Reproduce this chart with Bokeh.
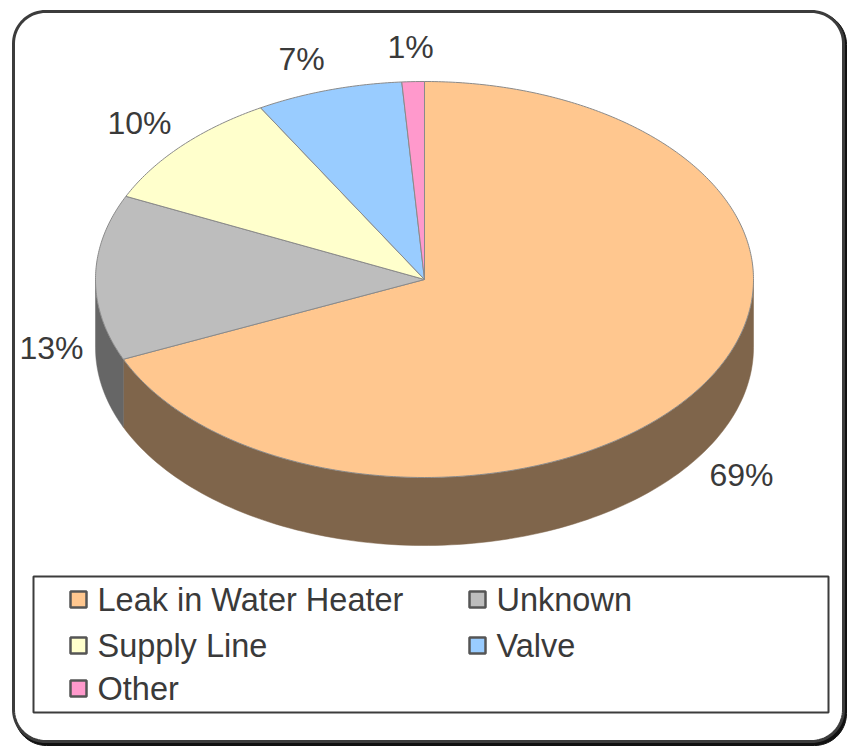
import numpy as np
from bokeh.plotting import figure
from bokeh.models import Range1d
from bokeh.core.properties import value
from bokeh.embed import file_html
from bokeh.resources import INLINE

categories = ["Leak in Water Heater", "Unknown", "Supply Line", "Valve", "Other"]
shares = [68.4, 13.5, 9.8, 7.2, 1.1]
top_colors = ["#FFC78F", "#BDBDBD", "#FFFFCC", "#99CCFF", "#FF99CC"]
side_colors = ["#7F654B", "#666666", "#80806A", "#4D6680", "#804D66"]
pct_labels = ["69%", "13%", "10%", "7%", "1%"]
pct_x = [709, 19, 107, 278, 387]
pct_y = [474, 347, 122, 58, 46]

legend_x = [78, 477, 78, 477, 78]
legend_y = [599, 599, 645, 645, 688]

FONT = value("Liberation Sans")
TEXT = "#3a3a3a"
W, H = 848, 746
cx, cy, rx, ry, depth = 424, 279, 329, 198, 68

p = figure(width=W, height=H, output_backend="svg", toolbar_location=None,
           x_range=Range1d(0, W), y_range=Range1d(H, 0),
           min_border=0, outline_line_color=None)
p.axis.visible = False
p.grid.visible = False
p.background_fill_color = "white"
p.border_fill_color = "white"


def rounded(x0, y0, x1, y1, r):
    xs, ys = [], []
    for (ax, ay, a0) in [(x1 - r, y0 + r, -90), (x1 - r, y1 - r, 0),
                         (x0 + r, y1 - r, 90), (x0 + r, y0 + r, 180)]:
        t = np.radians(np.linspace(a0, a0 + 90, 20))
        xs += list(ax + r * np.cos(t))
        ys += list(ay + r * np.sin(t))
    return xs, ys


# outer frame with a hard shadow on the right and bottom
sx, sy = rounded(14, 12, 846, 745, 32)
p.patch(sx, sy, fill_color="#111111", line_color="#111111", line_width=1)
fx, fy = rounded(13, 11, 843, 741, 32)
p.patch(fx, fy, fill_color="white", line_color="#3c3c3c", line_width=3)


def ex(t):
    return cx + rx * np.sin(t)


def ey(t, drop=0):
    return cy - ry * np.cos(t) + drop


edges = np.radians(np.cumsum([0] + shares) * 3.6)

# side walls: only the front half of the rim is visible
for i in range(len(shares)):
    a, b = max(edges[i], np.pi / 2), min(edges[i + 1], 3 * np.pi / 2)
    if b <= a:
        continue
    t = np.linspace(a, b, 120)
    xs = list(ex(t)) + list(ex(t[::-1]))
    ys = list(ey(t)) + list(ey(t[::-1], depth))
    p.patch(xs, ys, fill_color=side_colors[i], line_color=side_colors[i], line_width=0.5)

# top faces
for i in range(len(shares)):
    t = np.linspace(edges[i], edges[i + 1], max(4, int(shares[i] * 6)))
    xs = [cx] + list(ex(t))
    ys = [cy] + list(ey(t))
    p.patch(xs, ys, fill_color=top_colors[i], line_color="#8a8a8a", line_width=1)

p.text(pct_x, pct_y, text=pct_labels, text_font=FONT, text_font_size="32px",
       text_color=TEXT, text_baseline="middle", text_align="left")

# legend
p.quad(left=[33], right=[828], top=[576], bottom=[712], fill_color="white",
       line_color="#3c3c3c", line_width=2)
p.rect(legend_x, legend_y, width=16, height=16, fill_color=top_colors,
       line_color="#555555", line_width=2.5)
p.text([x + 19 for x in legend_x], legend_y, text=categories, text_font=FONT,
       text_font_size="32.5px", text_color=TEXT, text_baseline="middle", text_align="left")

open("out.html", "w").write(file_html(p, INLINE))
